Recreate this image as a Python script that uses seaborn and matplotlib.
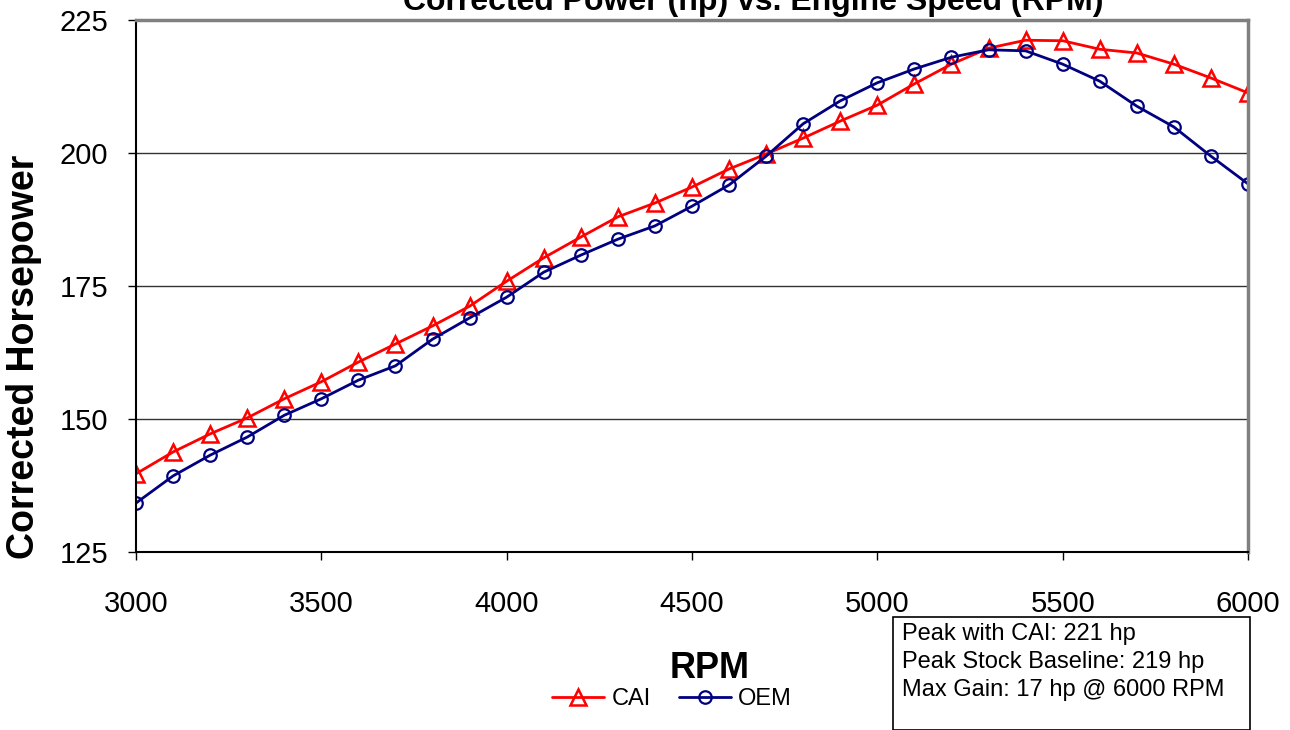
import pandas as pd
import matplotlib.pyplot as plt
import seaborn as sns

# Dyno data
rpm = list(range(3000, 6001, 100))
cai_hp = [139.7, 143.8, 147.2, 150.2, 153.8, 157.0, 160.7, 164.1, 167.5, 171.2,
          175.9, 180.3, 184.2, 188.0, 190.6, 193.6, 197.0, 199.8, 202.8, 206.0,
          209.0, 213.0, 216.7, 219.7, 221.2, 221.1, 219.5, 218.8, 216.7, 214.1, 211.3]
oem_hp = [134.2, 139.3, 143.2, 146.6, 150.7, 153.8, 157.3, 160.0, 165.0, 169.0,
          172.9, 177.6, 180.8, 183.8, 186.3, 190.0, 194.0, 199.4, 205.5, 209.8,
          213.2, 215.8, 218.0, 219.4, 219.2, 216.7, 213.5, 208.8, 204.9, 199.4, 194.2]
box_lines = ["Peak with CAI: 221 hp",
             "Peak Stock Baseline: 219 hp",
             "Max Gain: 17 hp @ 6000 RPM"]

df = pd.DataFrame({"rpm": rpm, "CAI": cai_hp, "OEM": oem_hp})

sns.set_style("white")
plt.rcParams['font.family'] = ['Liberation Sans', 'DejaVu Sans']
plt.rcParams['text.color'] = 'black'
plt.rcParams['axes.labelcolor'] = 'black'
plt.rcParams['xtick.color'] = 'black'
plt.rcParams['ytick.color'] = 'black'

fig = plt.figure(figsize=(12.9, 7.3), dpi=100)
ax = fig.add_axes([136/1290, 1 - 552/730, (1248-136)/1290, (552-20)/730])

# CAI series
sns.lineplot(x="rpm", y="CAI", data=df, ax=ax, color="#FF0000", lw=2.0,
             marker="^", markersize=12, mfc="none", mec="#FF0000", mew=1.8, label="CAI")
# OEM series
sns.lineplot(x="rpm", y="OEM", data=df, ax=ax, color="#000080", lw=2.0,
             marker="o", markersize=9, mfc="none", mec="#000080", mew=1.6, label="OEM")

ax.set_xlim(3000, 6000)
ax.set_ylim(125, 225)
ax.set_xticks(range(3000, 6001, 500))
ax.set_yticks([125, 150, 175, 200, 225])
ax.tick_params(labelsize=21, direction="out", length=6, width=1, color="black")
ax.tick_params(axis="x", pad=21)
ax.tick_params(axis="y", pad=14)
ax.tick_params(axis="both", which="both", bottom=True, left=True)
for y in [150, 175, 200]:
    ax.axhline(y, color="#333333", lw=1, zorder=0)

ax.spines["left"].set_color("black")
ax.spines["bottom"].set_color("black")
ax.spines["left"].set_linewidth(1.5)
ax.spines["bottom"].set_linewidth(1.5)
ax.spines["top"].set_color("#808080")
ax.spines["right"].set_color("#808080")
ax.spines["top"].set_linewidth(2.5)
ax.spines["right"].set_linewidth(2.5)

ax.set_xlabel("")
ax.set_ylabel("")
fig.text(24/1290, 1 - 357/730, "Corrected Horsepower", rotation=90, ha="center", va="center",
         fontsize=27, fontweight="bold")
fig.text(710/1290, 1 - 668/730, "RPM", ha="center", va="center", fontsize=26, fontweight="bold")
fig.text(753/1290, 1 - 10/730, "Corrected Power (hp) vs. Engine Speed (RPM)",
         ha="center", va="baseline", fontsize=23, fontweight="bold")

# legend below the axis title
ax.legend_.remove()
handles, labels = ax.get_legend_handles_labels()
fig.legend(handles, labels, loc="center", bbox_to_anchor=(672/1290, 1 - 699/730), ncol=2,
           frameon=False, fontsize=17, handlelength=2.2, handletextpad=0.3, columnspacing=1.2)

# stats box
box = plt.Rectangle((893/1290, 0), (1250-893)/1290, (730-617)/730, transform=fig.transFigure,
                    fill=False, edgecolor="black", lw=1.2)
fig.add_artist(box)
for i, line in enumerate(box_lines):
    fig.text(902/1290, 1 - (634 + 28*i)/730, line, ha="left", va="center", fontsize=17)

fig.savefig("out.png", dpi=100)
